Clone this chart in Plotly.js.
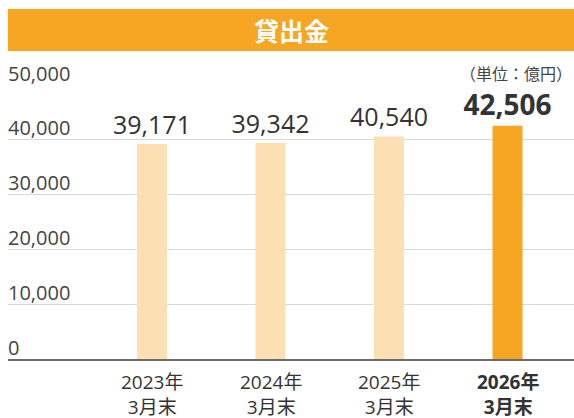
<!DOCTYPE html>
<html><head><meta charset="utf-8">
<script src="https://cdn.plot.ly/plotly-3.0.1.min.js"></script>
<style>html,body{margin:0;padding:0;background:#fff}#c{width:574px;height:418px}</style>
</head><body><div id="c"></div>
<script>
var categoryYears = ['2023年', '2024年', '2025年', '2026年'];
var categoryMonth = ['3月末', '3月末', '3月末', '3月末'];
var values = [39171, 39342, 40540, 42506];
var yTicks = [0, 10000, 20000, 30000, 40000, 50000];
var yTickText = ['0', '10,000', '20,000', '30,000', '40,000', '50,000'];
var barColors = ['#FCDFB3', '#FCDFB3', '#FCDFB3', '#F6A623'];
var title = '貸出金';
var unit = '（単位：億円）';

var font = 'Open Sans, Noto Sans CJK JP, sans-serif';
var cjk = 'Noto Sans CJK JP, sans-serif';
var last = values.length - 1;
var labels = values.map(function(v, i){
  var s = v.toLocaleString('en-US');
  return i === last ? '<b>' + s + '</b>' : s;
});
var labelSizes = values.map(function(v, i){ return i === last ? 28 : 25; });
var xs = values.map(function(v, i){ return i; });

var trace = {
  type: 'bar', x: xs, y: values,
  marker: {color: barColors},
  width: 0.253,
  text: labels, textposition: 'outside', constraintext: 'none',
  textfont: {size: labelSizes, color: '#333', family: font},
  cliponaxis: false, hoverinfo: 'none'
};
var annotations = [
  {xref: 'paper', yref: 'paper', x: 0.5, y: (359-30)/275, text: '<b>' + title + '</b>',
   showarrow: false, xanchor: 'center', yanchor: 'middle', font: {size: 25, color: '#fff', family: cjk}},
  {xref: 'paper', yref: 'paper', x: 1, y: (359-73)/275, text: unit,
   showarrow: false, xanchor: 'right', yanchor: 'middle', font: {size: 16, color: '#444', family: cjk}}
];
yTicks.forEach(function(v, i){
  annotations.push({xref: 'paper', yref: 'y', x: 0, y: v, text: yTickText[i],
    showarrow: false, xanchor: 'left', yanchor: 'bottom', yshift: -4, xshift: -2,
    font: {size: 20, color: '#444', family: font}});
});
xs.forEach(function(x, i){
  var t = categoryYears[i] + '<br>' + categoryMonth[i];
  if (i === last) t = '<b>' + categoryYears[i] + '<br>' + categoryMonth[i] + '</b>';
  annotations.push({xref: 'x', yref: 'paper', x: x, y: (359-394)/275, text: t,
    showarrow: false, xanchor: 'center', yanchor: 'middle', borderpad: 0,
    font: {size: 19, color: '#333', family: font}});
});
var layout = {
  width: 574, height: 418,
  margin: {l: 8, r: 0, t: 84, b: 59},
  paper_bgcolor: '#fff', plot_bgcolor: '#fff',
  showlegend: false,
  font: {family: font, color: '#333'},
  xaxis: {
    range: [-1.215, 3.561], tickvals: xs, showticklabels: false,
    showline: true, linecolor: '#6b6b6b', linewidth: 1.5,
    showgrid: false, zeroline: false, ticks: '', fixedrange: true
  },
  yaxis: {
    range: [0, 50100], tickvals: yTicks, showticklabels: false,
    showgrid: true, gridcolor: '#d9d9d9', gridwidth: 1,
    zeroline: false, showline: false, ticks: '', fixedrange: true
  },
  shapes: [{type: 'rect', xref: 'paper', yref: 'paper', x0: 0, x1: 1,
    y0: (359-51)/275, y1: (359-9)/275, fillcolor: '#F6A623', line: {width: 0}, layer: 'below'}],
  annotations: annotations
};
Plotly.newPlot('c', [trace], layout, {staticPlot: true, displayModeBar: false});
</script></body></html>
